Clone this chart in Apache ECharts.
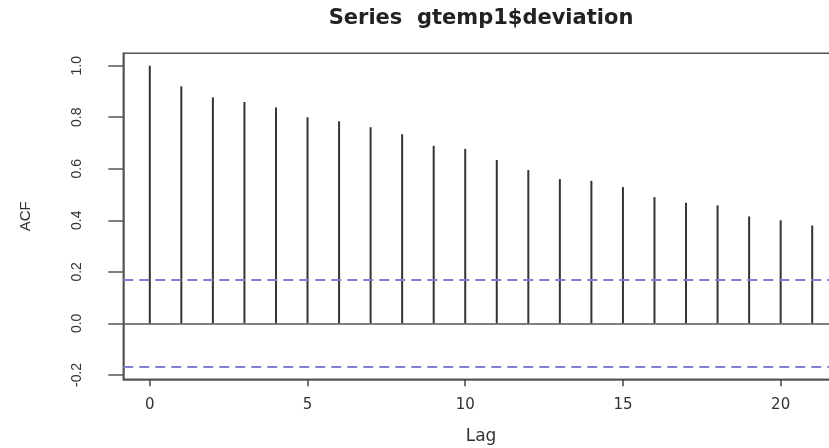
<!DOCTYPE html>
<html>
<head>
<meta charset="utf-8">
<script src="https://cdn.jsdelivr.net/npm/echarts@6/dist/echarts.min.js"></script>
<style>html,body{margin:0;padding:0;background:#fff}#c{width:829px;height:448px}</style>
</head>
<body>
<div id="c"></div>
<script>
const titleText = 'Series  gtemp1$deviation';
const lags = [0,1,2,3,4,5,6,7,8,9,10,11,12,13,14,15,16,17,18,19,20,21];
const acfValues = [1.000,0.920,0.877,0.859,0.838,0.800,0.784,0.761,0.734,0.689,0.677,0.634,0.595,0.560,0.553,0.529,0.490,0.468,0.458,0.415,0.400,0.380];
const ciBound = 0.169;
const xTicks = [0,5,10,15,20];
const yTicks = [-0.2,0.0,0.2,0.4,0.6,0.8,1.0];
const xRange = [-0.84, 21.84];
const yRange = [-0.217, 1.048];

const chart = echarts.init(document.getElementById('c'), null, {renderer:'canvas'});
const data = lags.map((l,i)=>[l, acfValues[i]]);
chart.setOption({
  animation:false,
  backgroundColor:'#fff',
  title:{text:titleText,left:476,top:3,textAlign:'center',
    textStyle:{fontFamily:'DejaVu Sans',fontSize:21,fontWeight:'bold',color:'#222'}},
  grid:{left:123.3,top:53.3,width:715.4,height:326,show:true,borderColor:'#555',borderWidth:1.5,
    containLabel:false,outerBoundsMode:'none'},
  xAxis:{type:'value',min:xRange[0],max:xRange[1],
    name:'Lag',nameLocation:'middle',nameGap:49,
    nameTextStyle:{fontFamily:'DejaVu Sans',fontSize:17,color:'#333'},
    axisLine:{show:true,onZero:false,lineStyle:{color:'#555',width:1.5}},
    axisTick:{show:true,length:7,customValues:xTicks,lineStyle:{color:'#444',width:1.5}},
    axisLabel:{customValues:xTicks,margin:18,fontFamily:'DejaVu Sans',fontSize:15,color:'#333'},
    splitLine:{show:false}},
  yAxis:{type:'value',min:yRange[0],max:yRange[1],
    name:'ACF',nameLocation:'middle',nameGap:90,nameRotate:90,
    nameTextStyle:{fontFamily:'Liberation Sans',fontSize:15,color:'#333'},
    axisLine:{show:true,onZero:false,lineStyle:{color:'#555',width:1.5}},
    axisTick:{show:true,length:15,customValues:yTicks,lineStyle:{color:'#555',width:1.5}},
    axisLabel:{customValues:yTicks,rotate:90,margin:39,fontFamily:'Liberation Sans',fontSize:14,color:'#333',
      formatter:v=>Number(v).toFixed(1)},
    splitLine:{show:false}},
  series:[{
    type:'custom',
    data:data,
    renderItem:function(params, api){
      const p0 = api.coord([api.value(0), 0]);
      const p1 = api.coord([api.value(0), api.value(1)]);
      return {type:'line',shape:{x1:p0[0],y1:p0[1],x2:p1[0],y2:p1[1]},
        style:{stroke:'#333',lineWidth:2}};
    },
    markLine:{silent:true,symbol:'none',label:{show:false},
      data:[
        {yAxis:0,lineStyle:{color:'#555',width:1.5,type:'solid'}},
        {yAxis:ciBound,lineStyle:{color:'#7f7fd0',width:2,type:[10,6]}},
        {yAxis:-ciBound,lineStyle:{color:'#7f7fd0',width:2,type:[10,6]}}
      ]}
  }]
});
</script>
</body>
</html>
